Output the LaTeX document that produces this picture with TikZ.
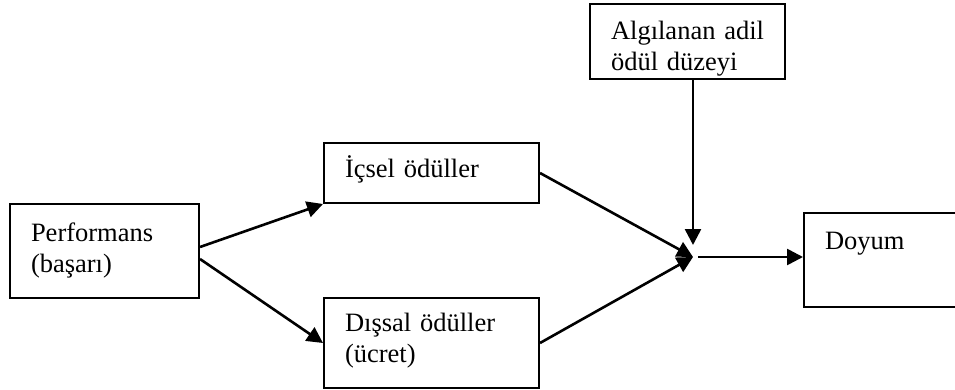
\documentclass[tikz,border=0pt]{standalone}
\usepackage{fontspec}
\setmainfont{Liberation Serif}
\usepackage{tikz}
\usetikzlibrary{arrows.meta}
\newcommand{\rimwidth}{2pt}
\newcommand{\arrowwidth}{2.6pt}
\newcommand{\pad}{21pt}

\begin{document}
\begin{tikzpicture}[x=1pt,y=-1pt,
    kutu/.style={draw,line width=\rimwidth,rectangle,anchor=north west,align=left,
        inner xsep=\pad,inner ysep=0pt,font=\fontsize{26.5}{31}\selectfont},
    yon/.style={line width=\arrowwidth,-{Triangle[length=16pt,width=16pt]}}]
    \useasboundingbox (0,0) rectangle (955,390);
    %Boxes (text height = top to first baseline):
    \node[kutu,text width=147pt,text height=37pt,text depth=57pt] (perf) at (9,203) {Performans\\(başarı)};
    \node[kutu,text width=173pt,text height=34.5pt,text depth=25.5pt] (icsel) at (323,142) {İçsel ödüller};
    \node[kutu,text width=173pt,text height=33.5pt,text depth=56.5pt] (dissal) at (323,297) {Dışsal ödüller\\(ücret)};
    \node[kutu,text width=153pt,text height=36pt,text depth=39pt] (algi) at (589,3) {Algılanan~adil\\ödül düzeyi};
    \node[kutu,text width=160pt,text height=36.5pt,text depth=57.5pt] (doyum) at (803,212) {Doyum};
    %Arrows, all meeting at j:
    \coordinate (j) at (693,257);
    \draw[yon] ([yshift=4pt]perf.east) -- (icsel.south west);
    \draw[yon] ([yshift=-8pt]perf.east) -- (dissal.west);
    \draw[yon] (icsel.east) -- (j);
    \draw[yon] (dissal.east) -- (j);
    \draw[yon] (algi.south -| j) -- ([yshift=12pt]j);
    \draw[yon] ([xshift=5pt]j) -- (j -| doyum.west);
\end{tikzpicture}
\end{document}
